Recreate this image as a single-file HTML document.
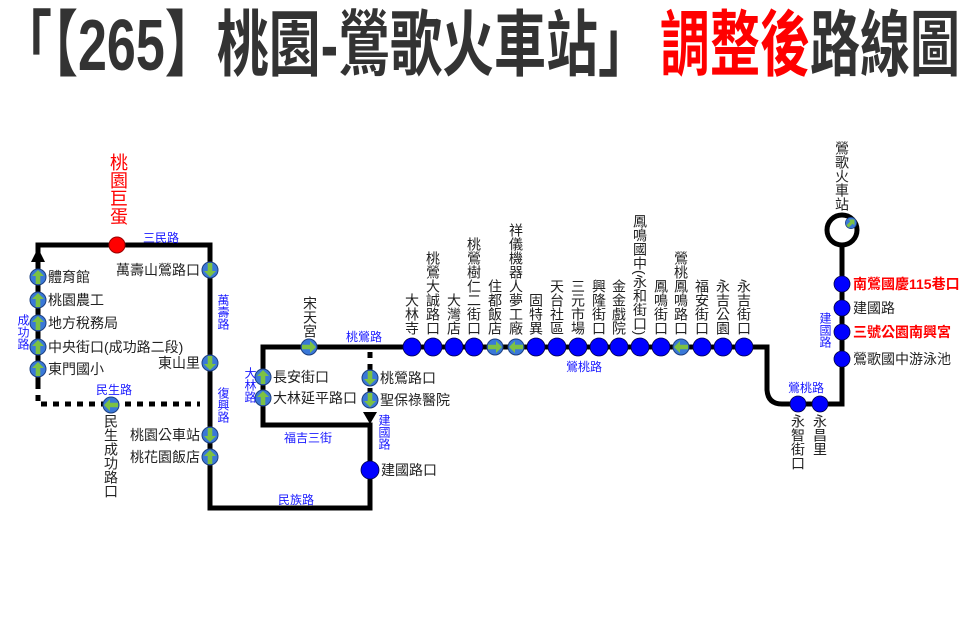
<!DOCTYPE html>
<html><head><meta charset="utf-8"><style>
html,body{margin:0;padding:0;background:#fff;}
#c{position:relative;width:960px;height:630px;overflow:hidden;font-family:"Liberation Sans","Noto Sans CJK TC",sans-serif;}
svg{position:absolute;left:0;top:0;}
.t{position:absolute;font-size:14px;color:#222;white-space:nowrap;line-height:16px;}
.v{position:absolute;font-size:14px;color:#222;writing-mode:vertical-rl;text-orientation:mixed;line-height:16px;letter-spacing:0px;white-space:nowrap;}
.b{color:#1a1aff;font-size:12px;}
.r{color:#f00;}
</style></head><body><div id="c">
<svg width="960" height="630" viewBox="0 0 960 630">
<defs>
<g id="gs"><circle r="8" fill="#3a78d8" stroke="#1c3f80" stroke-width="1"/><path d="M0,-7 L6,-1 L2.3,-1 L2.3,7 L-2.3,7 L-2.3,-1 L-6,-1Z" fill="#7cc143"/></g>
</defs>
<text x="0" y="70" font-family="Liberation Sans,Noto Sans CJK TC,sans-serif" font-size="72" font-weight="bold" fill="#333" textLength="650" lengthAdjust="spacingAndGlyphs">「【265】桃園-鶯歌火車站」</text>
<text x="660" y="70" font-family="Liberation Sans,Noto Sans CJK TC,sans-serif" font-size="72" fill="#f00" font-weight="bold" textLength="150" lengthAdjust="spacingAndGlyphs">調整後</text>
<text x="810" y="70" font-family="Liberation Sans,Noto Sans CJK TC,sans-serif" font-size="72" font-weight="bold" fill="#333" textLength="150" lengthAdjust="spacingAndGlyphs">路線圖</text>
<g fill="none" stroke="#000" stroke-width="5">
<path d="M38,385 L38,245 L210,245 L210,508 L370,508 L370,425 L263,425 L263,347 L767,347 L767,390 Q768,404 782,404 L842,404 L842,245"/>
</g>
<circle cx="842" cy="230" r="15" fill="none" stroke="#000" stroke-width="5"/>
<g stroke="#000" stroke-width="5" stroke-dasharray="6,6" fill="none">
<path d="M38,383 L38,404 L200,404"/>
<path d="M370,352 L370,412"/>
</g>
<path d="M31,262 L38,248 L45,262Z" fill="#000"/>
<path d="M363,412 L370,424 L377,412Z" fill="#000"/>
<circle cx="117" cy="245" r="8" fill="#f00" stroke="#900"/>
<g fill="#0000ff" stroke="#000040" stroke-width="0.8">
<circle cx="370" cy="470" r="9"/>
<circle cx="412" cy="347" r="9"/><circle cx="433" cy="347" r="9"/><circle cx="454" cy="347" r="9"/><circle cx="474" cy="347" r="9"/>
<circle cx="536" cy="347" r="9"/><circle cx="557" cy="347" r="9"/><circle cx="578" cy="347" r="9"/><circle cx="599" cy="347" r="9"/><circle cx="619" cy="347" r="9"/><circle cx="640" cy="347" r="9"/><circle cx="661" cy="347" r="9"/><circle cx="702" cy="347" r="9"/><circle cx="723" cy="347" r="9"/><circle cx="744" cy="347" r="9"/>
<circle cx="798" cy="404" r="8"/><circle cx="820" cy="404" r="8"/>
<circle cx="842" cy="284" r="8"/><circle cx="842" cy="308" r="8"/><circle cx="842" cy="332" r="8"/><circle cx="842" cy="359" r="8"/>
</g>
<use href="#gs" transform="translate(38,277)"/><use href="#gs" transform="translate(38,300)"/><use href="#gs" transform="translate(38,323)"/><use href="#gs" transform="translate(38,347)"/><use href="#gs" transform="translate(38,369)"/>
<use href="#gs" transform="translate(210,270) rotate(180)"/><use href="#gs" transform="translate(210,363) rotate(180)"/><use href="#gs" transform="translate(210,435) rotate(180)"/><use href="#gs" transform="translate(210,457)"/>
<use href="#gs" transform="translate(111,405) rotate(270)"/>
<use href="#gs" transform="translate(309,347) rotate(90)"/>
<use href="#gs" transform="translate(263,377)"/><use href="#gs" transform="translate(263,398)"/>
<use href="#gs" transform="translate(370,378) rotate(180)"/><use href="#gs" transform="translate(370,400) rotate(180)"/>
<use href="#gs" transform="translate(495,347) rotate(90)"/><use href="#gs" transform="translate(516,347) rotate(270)"/><use href="#gs" transform="translate(681,347) rotate(270)"/>
<use href="#gs" transform="translate(851,223) rotate(45) scale(0.7)"/>
</svg>

<div class="v r" style="left:108px;top:153px;font-size:18px;line-height:20px;">桃園巨蛋</div>
<div class="t b" style="left:143px;top:230px;">三民路</div>
<div class="v b" style="left:15px;top:314px;">成功路</div>
<div class="t" style="left:48px;top:269px;">體育館</div>
<div class="t" style="left:48px;top:292px;">桃園農工</div>
<div class="t" style="left:48px;top:315px;">地方稅務局</div>
<div class="t" style="left:48px;top:339px;">中央街口(成功路二段)</div>
<div class="t" style="left:48px;top:361px;">東門國小</div>
<div class="t b" style="left:96px;top:382px;">民生路</div>
<div class="v" style="left:103px;top:414px;">民生成功路口</div>
<div class="t" style="right:760px;top:262px;">萬壽山鶯路口</div>
<div class="t" style="right:760px;top:355px;">東山里</div>
<div class="t" style="right:760px;top:427px;">桃園公車站</div>
<div class="t" style="right:760px;top:449px;">桃花園飯店</div>
<div class="v b" style="left:215px;top:294px;">萬壽路</div>
<div class="v b" style="left:215px;top:387px;">復興路</div>
<div class="t b" style="left:278px;top:492px;">民族路</div>
<div class="v" style="left:302px;top:296px;">宋天宮</div>
<div class="t b" style="left:346px;top:329px;">桃鶯路</div>
<div class="v b" style="left:242px;top:367px;">大林路</div>
<div class="t" style="left:273px;top:369px;">長安街口</div>
<div class="t" style="left:273px;top:390px;">大林延平路口</div>
<div class="t b" style="left:284px;top:430px;">福吉三街</div>
<div class="t" style="left:380px;top:370px;">桃鶯路口</div>
<div class="t" style="left:380px;top:392px;">聖保祿醫院</div>
<div class="v b" style="left:376px;top:414px;">建國路</div>
<div class="t" style="left:381px;top:462px;">建國路口</div>
<div class="t b" style="left:566px;top:359px;">鶯桃路</div>

<div class="v" style="left:404px;bottom:295px;">大林寺</div>
<div class="v" style="left:425px;bottom:295px;">桃鶯大誠路口</div>
<div class="v" style="left:446px;bottom:295px;">大灣店</div>
<div class="v" style="left:466px;bottom:295px;">桃鶯樹仁二街口</div>
<div class="v" style="left:487px;bottom:295px;">住都飯店</div>
<div class="v" style="left:508px;bottom:295px;">祥儀機器人夢工廠</div>
<div class="v" style="left:528px;bottom:295px;">固特異</div>
<div class="v" style="left:549px;bottom:295px;">天台社區</div>
<div class="v" style="left:570px;bottom:295px;">三元市場</div>
<div class="v" style="left:591px;bottom:295px;">興隆街口</div>
<div class="v" style="left:611px;bottom:295px;">金金戲院</div>
<div class="v" style="left:632px;bottom:295px;">鳳鳴國中(永和街口)</div>
<div class="v" style="left:653px;bottom:295px;">鳳鳴街口</div>
<div class="v" style="left:673px;bottom:295px;">鶯桃鳳鳴路口</div>
<div class="v" style="left:694px;bottom:295px;">福安街口</div>
<div class="v" style="left:715px;bottom:295px;">永吉公園</div>
<div class="v" style="left:736px;bottom:295px;">永吉街口</div>

<div class="v" style="left:834px;bottom:419px;">鶯歌火車站</div>
<div class="t r" style="left:853px;top:276px;font-weight:bold;">南鶯國慶115巷口</div>
<div class="t" style="left:853px;top:300px;">建國路</div>
<div class="t r" style="left:853px;top:324px;font-weight:bold;">三號公園南興宮</div>
<div class="t" style="left:853px;top:351px;">鶯歌國中游泳池</div>
<div class="v b" style="left:817px;top:312px;">建國路</div>
<div class="t b" style="left:788px;top:380px;">鶯桃路</div>
<div class="v" style="left:790px;top:414px;">永智街口</div>
<div class="v" style="left:812px;top:414px;">永昌里</div>
</div></body></html>
